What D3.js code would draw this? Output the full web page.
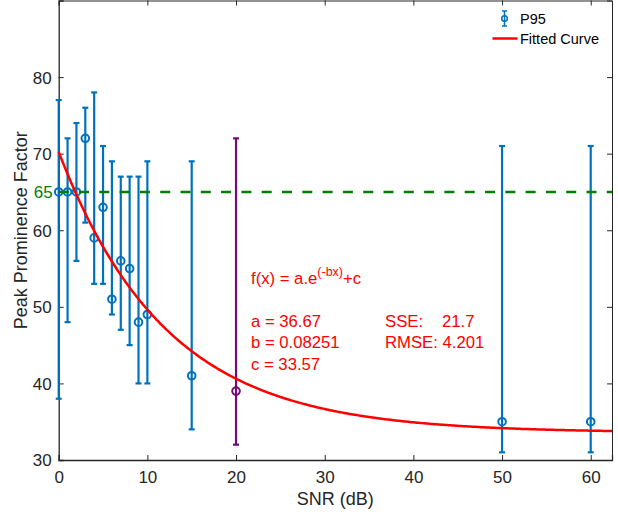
<!DOCTYPE html>
<html><head><meta charset="utf-8">
<script src="https://cdn.jsdelivr.net/npm/d3@7"></script>
<style>
body{margin:0;background:#fff;}
text{font-family:"Liberation Sans",Arial,Helvetica,sans-serif;}
</style></head>
<body><svg id="c" width="618" height="516"></svg>
<script>
// Data
const snr      = [0, 1, 2, 3, 4, 5, 6, 7, 8, 9, 10, 15, 50, 60];
const p95      = [65, 65, 65, 72, 59, 63, 51, 56, 55, 48, 49, 41, 35, 35];
const p95Lower = [38, 48, 56, 61, 53, 53, 49, 47, 45, 40, 40, 34, 31, 31];
const p95Upper = [77, 72, 74, 76, 78, 71, 69, 67, 67, 67, 69, 69, 71, 71];
const highlightX = [20], highlightY = [39], highlightLower = [32], highlightUpper = [72];
const fitA = 36.67, fitB = 0.08251, fitC = 33.57;
const threshold = 65;
const xTicks = [0, 10, 20, 30, 40, 50, 60];
const yTicks = [30, 40, 50, 60, 70, 80];

const svg = d3.select("#c");
const L = 58.7, R = 612, T = 0.5, B = 460;
const x = d3.scaleLinear().domain([0, 62.4]).range([L, R]);
const y = d3.scaleLinear().domain([30, 90]).range([B, T]);
const axisCol = "#262626";
const blue = "#0072BD", purple = "#730a75", red = "#ff0000", green = "#008000";

// Axes
const gx = svg.append("g").attr("transform", `translate(0,${B})`)
  .call(d3.axisBottom(x).tickValues(xTicks).tickSize(-5).tickPadding(11).tickFormat(d3.format("d")));
const gxt = svg.append("g").attr("transform", `translate(0,${T})`)
  .call(d3.axisTop(x).tickValues(xTicks).tickSize(-5).tickFormat(""));
const gy = svg.append("g").attr("transform", `translate(${L},0)`)
  .call(d3.axisLeft(y).tickValues(yTicks).tickSize(-5).tickPadding(7).tickFormat(d3.format("d")));
const gyr = svg.append("g").attr("transform", `translate(${R},0)`)
  .call(d3.axisRight(y).tickValues(yTicks).tickSize(-5).tickFormat(""));
[gx, gxt, gy, gyr].forEach(g => {
  g.select(".domain").attr("stroke", axisCol).attr("stroke-width", 1);
  g.selectAll(".tick line").attr("stroke", axisCol);
  g.selectAll(".tick text").attr("fill", axisCol).attr("font-size", 17);
});
gx.select(".domain").attr("stroke-width", 1.3);
gy.select(".domain").attr("stroke-width", 1.3);
gy.selectAll(".tick text").attr("dy", "0.35em");

// Axis labels
svg.append("text").attr("x", (L + R) / 2).attr("y", 505).attr("text-anchor", "middle")
  .attr("font-size", 18).attr("fill", axisCol).text("SNR (dB)");
svg.append("text").attr("transform", `translate(27,${(T + B) / 2}) rotate(-90)`)
  .attr("text-anchor", "middle").attr("font-size", 18).attr("fill", axisCol).text("Peak Prominence Factor");

// Error bars
function errorbars(xs, ys, lo, hi, col) {
  const g = svg.append("g");
  xs.forEach((xv, i) => {
    const cx = x(xv);
    g.append("line").attr("x1", cx).attr("x2", cx).attr("y1", y(lo[i])).attr("y2", y(hi[i]))
      .attr("stroke", col).attr("stroke-width", 2.2);
    [lo[i], hi[i]].forEach(v => g.append("line").attr("x1", cx - 3).attr("x2", cx + 3)
      .attr("y1", y(v)).attr("y2", y(v)).attr("stroke", col).attr("stroke-width", 2.2));
    g.append("circle").attr("cx", cx).attr("cy", y(ys[i])).attr("r", 3.8)
      .attr("fill", "none").attr("stroke", col).attr("stroke-width", 2);
  });
}
errorbars(snr, p95, p95Lower, p95Upper, blue);
errorbars(highlightX, highlightY, highlightLower, highlightUpper, purple);

// Threshold line
svg.append("line").attr("x1", x(0)).attr("x2", R).attr("y1", y(threshold)).attr("y2", y(threshold))
  .attr("stroke", green).attr("stroke-width", 2.4).attr("stroke-dasharray", "10,10.3");
svg.append("text").attr("x", L - 6).attr("y", y(threshold)).attr("dy", "0.35em").attr("text-anchor", "end")
  .attr("font-size", 17).attr("fill", green).text(String(threshold));

// Fitted curve
const curveX = d3.range(0, 62.41, 0.2);
svg.append("path").datum(curveX)
  .attr("d", d3.line().x(d => x(d)).y(d => y(fitA * Math.exp(-fitB * d) + fitC)))
  .attr("fill", "none").attr("stroke", red).attr("stroke-width", 2.5);

// Annotations
const ann = svg.append("g").attr("fill", red).attr("font-size", 16.7);
const f = ann.append("text").attr("x", 251).attr("y", 284);
f.append("tspan").text("f(x) = a.e");
f.append("tspan").attr("dy", -8).attr("font-size", 12.5).text("(-bx)");
f.append("tspan").attr("dy", 8).text("+c");
ann.append("text").attr("x", 251).attr("y", 326.5).text("a = " + fitA);
ann.append("text").attr("x", 251).attr("y", 348).text("b = " + fitB);
ann.append("text").attr("x", 251).attr("y", 369.5).text("c = " + fitC);
ann.append("text").attr("x", 385).attr("y", 326.5).text("SSE:");
ann.append("text").attr("x", 442).attr("y", 326.5).text("21.7");
ann.append("text").attr("x", 385).attr("y", 348).text("RMSE: 4.201");

// Legend
const lg = svg.append("g");
const lx = 504.5;
lg.append("line").attr("x1", lx).attr("x2", lx).attr("y1", 11).attr("y2", 26).attr("stroke", blue).attr("stroke-width", 1.5);
[11, 26].forEach(v => lg.append("line").attr("x1", lx - 2.5).attr("x2", lx + 2.5).attr("y1", v).attr("y2", v).attr("stroke", blue).attr("stroke-width", 1.5));
lg.append("circle").attr("cx", lx).attr("cy", 18.5).attr("r", 2.8).attr("fill", "none").attr("stroke", blue).attr("stroke-width", 1.5);
lg.append("text").attr("x", 520).attr("y", 24).attr("font-size", 14.5).attr("fill", "#000").text("P95");
lg.append("line").attr("x1", 492.5).attr("x2", 517.5).attr("y1", 38.5).attr("y2", 38.5).attr("stroke", red).attr("stroke-width", 2.5);
lg.append("text").attr("x", 520).attr("y", 43.5).attr("font-size", 14.5).attr("fill", "#000").text("Fitted Curve");
</script></body></html>
